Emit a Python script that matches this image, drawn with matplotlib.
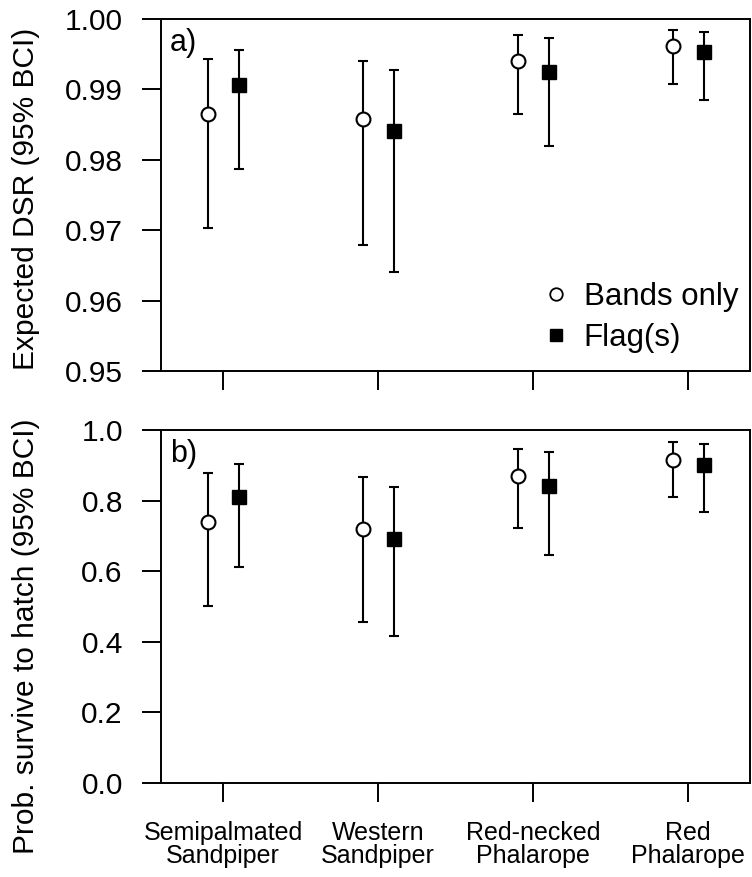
import numpy as np
import matplotlib.pyplot as plt
from matplotlib.lines import Line2D

plt.rcParams['font.family'] = ['Liberation Sans', 'DejaVu Sans']

species = ['Semipalmated\nSandpiper', 'Western\nSandpiper', 'Red-necked\nPhalarope', 'Red\nPhalarope']

# expected daily survival rate, median and 95% BCI
dsr_bands = [0.9865, 0.9858, 0.9941, 0.9962]
dsr_bands_lo = [0.9703, 0.9679, 0.9865, 0.9908]
dsr_bands_hi = [0.9943, 0.9941, 0.9977, 0.9985]
dsr_flag = [0.9906, 0.9841, 0.9925, 0.9953]
dsr_flag_lo = [0.9787, 0.9640, 0.9819, 0.9885]
dsr_flag_hi = [0.9956, 0.9927, 0.9973, 0.9982]

# probability of surviving to hatch
hatch_bands = [0.739, 0.719, 0.870, 0.915]
hatch_bands_lo = [0.502, 0.457, 0.722, 0.810]
hatch_bands_hi = [0.879, 0.868, 0.945, 0.967]
hatch_flag = [0.810, 0.691, 0.840, 0.900]
hatch_flag_lo = [0.612, 0.417, 0.646, 0.768]
hatch_flag_hi = [0.905, 0.838, 0.938, 0.961]

x = np.arange(1, len(species) + 1)
off = 0.1

fig = plt.figure(figsize=(7.52, 8.77), dpi=100)
ax1 = fig.add_axes([161/752, 1 - 371/877, 589/752, 352/877])
ax2 = fig.add_axes([161/752, 1 - 783/877, 589/752, 353/877])


def draw(ax, m1, lo1, hi1, m2, lo2, hi2):
    m1, lo1, hi1 = map(np.array, (m1, lo1, hi1))
    m2, lo2, hi2 = map(np.array, (m2, lo2, hi2))
    ax.errorbar(x - off, m1, yerr=[m1 - lo1, hi1 - m1], fmt='o', color='black',
                mfc='white', mec='black', mew=1.5, ms=10, elinewidth=1.5,
                capsize=3.5, capthick=1.5, zorder=3)
    ax.errorbar(x + off, m2, yerr=[m2 - lo2, hi2 - m2], fmt='s', color='black',
                mfc='black', mec='black', ms=9.5, elinewidth=1.5,
                capsize=3.5, capthick=1.5, zorder=3)
    ax.set_xlim(0.6, 4.4)
    ax.set_xticks(x)
    for s in ax.spines.values():
        s.set_linewidth(1.4)
    ax.tick_params(direction='out', length=13.5, width=1.4, labelsize=21.5, pad=14)


draw(ax1, dsr_bands, dsr_bands_lo, dsr_bands_hi, dsr_flag, dsr_flag_lo, dsr_flag_hi)
ax1.set_ylim(0.95, 1.0)
ax1.set_yticks([0.95, 0.96, 0.97, 0.98, 0.99, 1.00])
ax1.set_yticklabels(['0.95', '0.96', '0.97', '0.98', '0.99', '1.00'])
ax1.set_xticklabels([])
ax1.set_ylabel('Expected DSR (95% BCI)', fontsize=21.5)
ax1.yaxis.set_label_coords(-0.205, 0.49)
ax1.text(0.015, 0.975, 'a)', transform=ax1.transAxes, fontsize=22, va='top')

handles = [Line2D([], [], ls='none', marker='o', mfc='white', mec='black', mew=1.3, ms=9),
           Line2D([], [], ls='none', marker='s', mfc='black', mec='black', ms=9)]
ax1.legend(handles, ['Bands only', 'Flag(s)'], loc='lower right', frameon=False,
           fontsize=22.5, handlelength=0.8, handletextpad=0.5, labelspacing=0.35,
           borderpad=0, borderaxespad=0, bbox_to_anchor=(0.98, 0.051))

draw(ax2, hatch_bands, hatch_bands_lo, hatch_bands_hi, hatch_flag, hatch_flag_lo, hatch_flag_hi)
ax2.set_ylim(0.0, 1.0)
ax2.set_yticks([0.0, 0.2, 0.4, 0.6, 0.8, 1.0])
ax2.set_yticklabels(['0.0', '0.2', '0.4', '0.6', '0.8', '1.0'])
ax2.set_xticklabels(species, fontsize=18, linespacing=0.95)
ax2.set_ylabel('Prob. survive to hatch (95% BCI)', fontsize=21.5)
ax2.yaxis.set_label_coords(-0.205, 0.416)
ax2.text(0.015, 0.975, 'b)', transform=ax2.transAxes, fontsize=22, va='top')

plt.savefig('out.png', dpi=100)
